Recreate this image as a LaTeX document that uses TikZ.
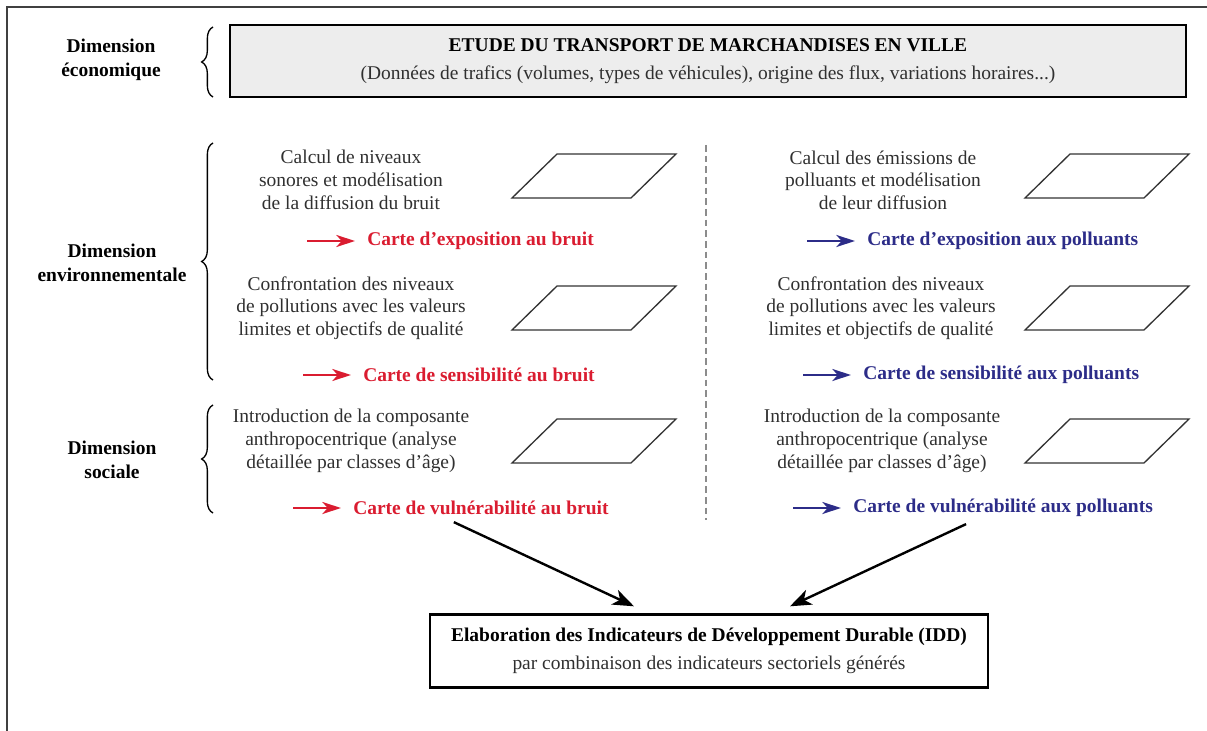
\documentclass[tikz,border=0pt]{standalone}
\usepackage{fontspec}
\setmainfont{Liberation Serif}
\usetikzlibrary{arrows.meta,calc,decorations.pathreplacing}
\definecolor{cartered}{RGB}{218,28,48}
\definecolor{carteblue}{RGB}{44,44,136}
\definecolor{txtgray}{RGB}{48,48,48}

\begin{document}
\begin{tikzpicture}[x=0.75pt,y=0.75pt,yscale=-1,xscale=1,
    font=\fontsize{14.6pt}{17pt}\selectfont,
    txt/.style={inner sep=0.75pt, align=center, text=txtgray},
    dimlbl/.style={inner sep=0.75pt, align=center, font=\fontsize{14.6pt}{18pt}\selectfont\bfseries},
    carte/.style={anchor=west, inner sep=0.75pt, font=\fontsize{14.6pt}{17pt}\selectfont\bfseries},
    framebox/.style={draw, line width=1.5pt, align=center, inner sep=0pt},
    para/.style={draw=black!80, line width=1pt},
    dimbrace/.style={decorate, decoration={brace, amplitude=8.5pt}, line width=1pt},
    redarr/.style={draw=cartered, line width=1.6pt, -{Stealth[length=14pt,width=9pt,inset=4pt]}, cartered},
    bluearr/.style={draw=carteblue, line width=1.6pt, -{Stealth[length=14pt,width=9pt,inset=4pt]}, carteblue},
    bigarr/.style={line width=1.8pt, -{Stealth[length=16pt,width=12pt,inset=4.5pt]}}]
    \useasboundingbox (0,0) rectangle (1207,731);

    %Straight Lines: frame
    \draw [line width=1.5pt, black!75]  (7,731) -- (7,7) -- (1207,7) ;
    %Straight Lines: separator
    \draw [black!45, line width=1pt, dash pattern={on 5pt off 3pt}]  (706,145) -- (706,520) ;

    % Text Node
    \draw (708,61) node [framebox, fill=black!7, minimum width=717pt, minimum height=54pt] (etude)
        {\textbf{ETUDE DU TRANSPORT DE MARCHANDISES EN VILLE}\\[4pt]
         {\color{txtgray}(Données de trafics (volumes, types de véhicules), origine des flux, variations horaires...)}};
    % Text Node
    \draw (709,651) node [framebox, line width=1.8pt, minimum width=418.5pt, minimum height=54.75pt] (idd)
        {\textbf{Elaboration des Indicateurs de Développement Durable (IDD)}\\[4pt]
         {\color{txtgray}par combinaison des indicateurs sectoriels générés}};

    % Text Node
    \draw (111,60) node [dimlbl] (dimEco) {Dimension\\économique};
    % Text Node
    \draw (112,263) node [dimlbl] (dimEnv) {Dimension\\environnementale};
    % Text Node
    \draw (112,460) node [dimlbl] (dimSoc) {Dimension\\sociale};

    %Braces
    \draw [dimbrace]  (213,97) -- (213,27) ;
    \draw [dimbrace]  (213,380) -- (213,143) ;
    \draw [dimbrace]  (213,513) -- (213,405) ;

    % Text Node
    \draw (351,180) node [txt] (calcB) {Calcul de niveaux\\sonores et modélisation\\de la diffusion du bruit};
    % Text Node
    \draw (351,308) node [txt] (confB) {Confrontation des niveaux\\de pollutions avec les valeurs\\limites et objectifs de qualité};
    % Text Node
    \draw (351,441) node [txt] (introB) {Introduction de la composante\\anthropocentrique (analyse\\détaillée par classes d'âge)};
    % Text Node
    \draw (883,180) node [txt] (calcP) {Calcul des émissions de\\polluants et modélisation\\de leur diffusion};
    % Text Node
    \draw (881,308) node [txt] (confP) {Confrontation des niveaux\\de pollutions avec les valeurs\\limites et objectifs de qualité};
    % Text Node
    \draw (882,441) node [txt] (introP) {Introduction de la composante\\anthropocentrique (analyse\\détaillée par classes d'âge)};

    %Shape: Parallelogram
    \foreach \px/\py in {512/198, 512/330, 512/463, 1025/198, 1025/330, 1025/463}
        \draw [para]  (\px,\py) -- ++(119,0) -- ++(45,-44) -- ++(-119,0) -- cycle ;

    % Text Node
    \draw (366,241) node [carte, text=cartered] (expoB) {Carte d'exposition au bruit};
    % Text Node
    \draw (362,375) node [carte, text=cartered] (sensB) {Carte de sensibilité au bruit};
    % Text Node
    \draw (352,508) node [carte, text=cartered] (vulnB) {Carte de vulnérabilité au bruit};
    % Text Node
    \draw (866,241) node [carte, text=carteblue] (expoP) {Carte d'exposition aux polluants};
    % Text Node
    \draw (862,375) node [carte, text=carteblue] (sensP) {Carte de sensibilité aux polluants};
    % Text Node
    \draw (852,508) node [carte, text=carteblue] (vulnP) {Carte de vulnérabilité aux polluants};

    %Arrows
    \draw [redarr]  (expoB.west) +(-59,0) -- +(-11,0) ;
    \draw [redarr]  (sensB.west) +(-59,0) -- +(-11,0) ;
    \draw [redarr]  (vulnB.west) +(-59,0) -- +(-11,0) ;
    \draw [bluearr]  (expoP.west) +(-59,0) -- +(-11,0) ;
    \draw [bluearr]  (sensP.west) +(-59,0) -- +(-11,0) ;
    \draw [bluearr]  (vulnP.west) +(-59,0) -- +(-11,0) ;

    \draw [bigarr]  ($(vulnB.south)+(-27,6)$) -- ($(idd.north)+(-75,-7)$) ;
    \draw [bigarr]  ($(vulnP.south)+(-37,6)$) -- ($(idd.north)+(81,-7)$) ;

\end{tikzpicture}
\end{document}
